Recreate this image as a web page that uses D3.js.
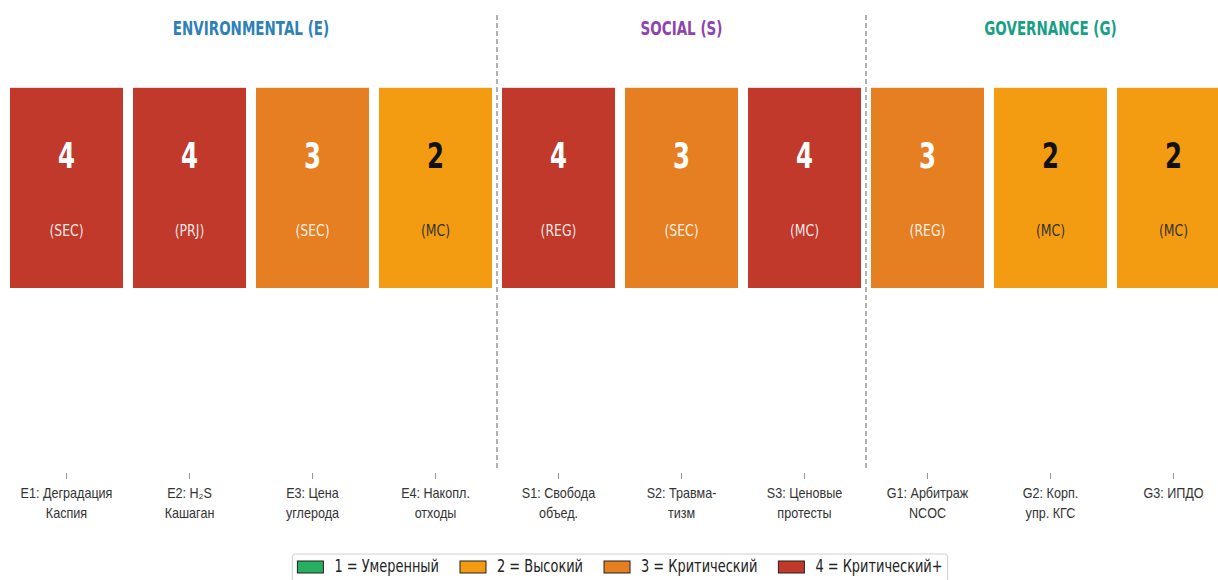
<!DOCTYPE html>
<html>
<head>
<meta charset="utf-8">
<script src="https://cdn.jsdelivr.net/npm/d3@7"></script>
<style>
	body { margin: 0; background: #fff; }
	svg { display: block; font-family: "DejaVu Sans", sans-serif; }
</style>
</head>
<body>
<svg id="chart" width="1218" height="580"></svg>
<script>
// --------------------------------------------------------------------
// data

const codes = ["E1", "E2", "E3", "E4", "S1", "S2", "S3", "G1", "G2", "G3"];
const tickLabels = [
	["E1: Деградация", "Каспия"],
	["E2: H₂S", "Кашаган"],
	["E3: Цена", "углерода"],
	["E4: Накопл.", "отходы"],
	["S1: Свобода", "объед."],
	["S2: Травма-", "тизм"],
	["S3: Ценовые", "протесты"],
	["G1: Арбитраж", "NCOC"],
	["G2: Корп.", "упр. КГС"],
	["G3: ИПДО"]
];
const scores = [4, 4, 3, 2, 4, 3, 4, 3, 2, 2];
const scopes = ["SEC", "PRJ", "SEC", "MC", "REG", "SEC", "MC", "REG", "MC", "MC"];

const groupNames = ["ENVIRONMENTAL (E)", "SOCIAL (S)", "GOVERNANCE (G)"];
const groupColors = ["#2e80b8", "#8e44ad", "#17a085"];
const groupSizes = [4, 3, 3];

const levelLabels = ["1 = Умеренный", "2 = Высокий", "3 = Критический", "4 = Критический+"];
const levelColors = ["#27ae60", "#f39c12", "#e67e22", "#c0392b"];

// --------------------------------------------------------------------

const svg = d3.select("#chart");

const x = d3.scaleBand()
	.domain(codes)
	.range([10, 1230])
	.paddingInner(10 / 123)
	.paddingOuter(0);

const y = d3.scaleLinear()
	.domain([0, 1])
	.range([470, 15]);

const levelColor = d3.scaleOrdinal().domain([1, 2, 3, 4]).range(levelColors);

const cellBottom = 0.4, cellTop = 0.84;

// squeezed text, the reference uses a narrow face
function squeezed(parent, cx, cy, sx) {
	return parent.append("text")
		.attr("transform", `translate(${cx},${cy}) scale(${sx},1)`)
		.attr("text-anchor", "middle");
}

// separators between groups
let start = 0;
const groupRanges = groupSizes.map(n => {
	const r = [codes[start], codes[start + n - 1]];
	start += n;
	return r;
});

groupRanges.slice(0, -1).forEach(r => {
	const sx = x(r[1]) + x.bandwidth() + (x.step() - x.bandwidth()) / 2;
	svg.append("line")
		.attr("x1", sx).attr("x2", sx)
		.attr("y1", y(1)).attr("y2", y(0))
		.attr("stroke", "#999")
		.attr("stroke-width", 1.5)
		.attr("stroke-dasharray", "5,3");
});

// group titles
groupRanges.forEach((r, i) => {
	const cx = (x(r[0]) + x(r[1]) + x.bandwidth()) / 2;
	squeezed(svg, cx, 35, 0.71)
		.attr("font-size", 19)
		.attr("font-weight", "bold")
		.attr("fill", groupColors[i])
		.text(groupNames[i]);
});

// cells
const cells = svg.selectAll("g.cell")
	.data(codes)
	.join("g")
	.attr("class", "cell");

cells.append("rect")
	.attr("x", d => x(d))
	.attr("y", y(cellTop))
	.attr("width", x.bandwidth())
	.attr("height", y(cellBottom) - y(cellTop))
	.attr("fill", (d, i) => levelColor(scores[i]));

cells.each(function(d, i) {
	const g = d3.select(this);
	const cx = x(d) + x.bandwidth() / 2;
	const dark = scores[i] <= 2;

	squeezed(g, cx, y(0.692) + 13, 0.68)
		.attr("font-size", 36)
		.attr("font-weight", "bold")
		.attr("fill", dark ? "#111" : "#fff")
		.text(scores[i]);

	squeezed(g, cx, y(0.527) + 6, 0.78)
		.attr("font-size", 16)
		.attr("fill", dark ? "#333" : "#fff")
		.attr("fill-opacity", dark ? 1 : 0.9)
		.text(`(${scopes[i]})`);
});

// x axis
const axis = svg.append("g")
	.attr("transform", `translate(0,${y(0) + 3})`)
	.call(d3.axisBottom(x).tickSize(6).tickSizeOuter(0).tickFormat(""));

axis.select(".domain").remove();
axis.selectAll(".tick line").attr("stroke", "#999");

axis.selectAll(".tick text").remove();
axis.selectAll(".tick").each(function(d) {
	const i = codes.indexOf(d);
	const t = d3.select(this).append("text")
		.attr("transform", "scale(0.9,1)")
		.attr("text-anchor", "middle")
		.attr("font-size", 14)
		.attr("fill", "#333");
	tickLabels[i].forEach((line, k) => {
		t.append("tspan")
			.attr("x", 0)
			.attr("y", 25 + k * 20)
			.text(line);
	});
});

// legend
const legend = svg.append("g").attr("transform", "translate(0,554)");
const box = legend.append("rect")
	.attr("y", 0)
	.attr("height", 32)
	.attr("rx", 3)
	.attr("fill", "#fff")
	.attr("stroke", "#d0d0d0");

const lsx = 0.74;
let lx = 5;
const items = levelLabels.map((label, i) => {
	const item = legend.append("g");
	item.append("rect")
		.attr("x", 0).attr("y", 7)
		.attr("width", 26).attr("height", 12)
		.attr("fill", levelColors[i])
		.attr("stroke", "#222")
		.attr("stroke-width", 1);
	const t = item.append("text")
		.attr("transform", `translate(37,18) scale(${lsx},1)`)
		.attr("font-size", 17.5)
		.attr("fill", "#222")
		.text(label);
	const w = 37 + t.node().getComputedTextLength() * lsx;
	item.attr("transform", `translate(${lx},0)`);
	lx += w + (i < levelLabels.length - 1 ? 21 : 5);
	return item;
});

const legendCenter = (x.range()[0] + x.range()[1]) / 2;
const legendLeft = legendCenter - lx / 2;
box.attr("x", legendLeft).attr("width", lx);
items.forEach(it => {
	const tr = it.attr("transform").match(/translate\(([-\d.]+)/);
	it.attr("transform", `translate(${legendLeft + +tr[1]},0)`);
});
</script>
</body>
</html>
